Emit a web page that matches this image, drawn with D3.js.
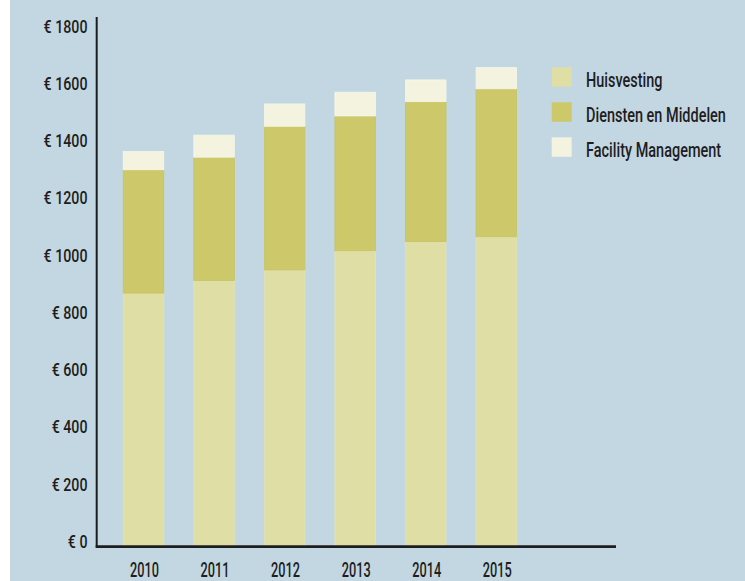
<!DOCTYPE html>
<html>
<head>
<meta charset="utf-8">
<script src="https://cdn.jsdelivr.net/npm/d3@7"></script>
<style>
  body { margin: 0; background: #ffffff; }
  svg { display: block; }
</style>
</head>
<body>
<svg id="chart" width="745" height="581"></svg>
<script>
// Yearly cost per category (euro)
const years = ["2010", "2011", "2012", "2013", "2014", "2015"];
const huisvesting = [884, 928, 965, 1032, 1064, 1081];
const dienstenEnMiddelen = [431, 431, 502, 471, 489, 517];
const facilityManagement = [64, 77, 78, 83, 76, 74];
const seriesNames = ["Huisvesting", "Diensten en Middelen", "Facility Management"];
const yTicks = [0, 200, 400, 600, 800, 1000, 1200, 1400, 1600, 1800];

const colors = ["#dfdea4", "#cdc86a", "#f3f3df"];
const edgeColors = ["#e4e3b0", "#c8c362", "#f7f7e8"];
const textColor = "#1f1d1e";
const fontFamily = "Roboto,'DejaVu Sans Condensed',sans-serif";

const rows = years.map((y, i) => ({
  year: y,
  [seriesNames[0]]: huisvesting[i],
  [seriesNames[1]]: dienstenEnMiddelen[i],
  [seriesNames[2]]: facilityManagement[i]
}));
const stacked = d3.stack().keys(seriesNames)(rows);

const svg = d3.select("#chart");

// panel background
svg.append("rect")
  .attr("x", 10).attr("y", 0)
  .attr("width", 735).attr("height", 581)
  .attr("fill", "#c2d7e1");

const x = d3.scaleBand()
  .domain(years)
  .range([108.2, 531.6])
  .paddingInner(0.426)
  .paddingOuter(0.213);

const y = d3.scaleLinear()
  .domain([0, 1800])
  .range([546, 31]);

// stacked bars
svg.append("g")
  .selectAll("g")
  .data(stacked)
  .join("g")
    .attr("fill", (d, i) => colors[i])
    .attr("stroke", (d, i) => edgeColors[i])
    .attr("stroke-width", 0.8)
  .selectAll("rect")
  .data(d => d)
  .join("rect")
    .attr("x", d => x(d.data.year))
    .attr("y", d => y(d[1]))
    .attr("width", x.bandwidth())
    .attr("height", d => y(d[0]) - y(d[1]));

// y axis
const yAxis = svg.append("g")
  .attr("transform", "translate(96.7,0)")
  .call(d3.axisLeft(y).tickValues(yTicks).tickSize(0).tickFormat(d => "€ " + d));
yAxis.select(".domain").remove();
yAxis.selectAll("text")
  .attr("x", 0).attr("dy", 0)
  .attr("fill", textColor)
  .style("font-family", fontFamily)
  .style("font-weight", 500)
  .style("font-size", "19px")
  .attr("text-anchor", "end");

svg.append("line")
  .attr("x1", 96.7).attr("x2", 96.7)
  .attr("y1", 17).attr("y2", 547.5)
  .attr("stroke", "#1d1d1f").attr("stroke-width", 2);

// x axis
const xAxis = svg.append("g")
  .attr("transform", "translate(0,546)")
  .call(d3.axisBottom(x).tickSize(0));
xAxis.select(".domain").remove();
xAxis.selectAll("text")
  .attr("y", 0).attr("dy", 0)
  .attr("fill", textColor)
  .style("font-family", fontFamily)
  .style("font-weight", 500)
  .style("font-size", "20px");

svg.append("line")
  .attr("x1", 95.7).attr("x2", 616)
  .attr("y1", 546.6).attr("y2", 546.6)
  .attr("stroke", "#1d1d1f").attr("stroke-width", 2.6);

// legend
const legend = svg.append("g");
seriesNames.forEach((name, i) => {
  legend.append("rect")
    .attr("x", 551.7).attr("y", 67.3 + i * 35)
    .attr("width", 20).attr("height", 19.5)
    .attr("fill", colors[i]);
  legend.append("text")
    .attr("class", "legend-label")
    .attr("x", 0).attr("y", 0)
    .attr("data-x", 586).attr("data-y", 86.6 + i * 35)
    .attr("fill", textColor)
    .style("font-family", fontFamily)
    .style("font-weight", 500)
    .style("font-size", "20.5px")
    .text(name);
});

// condense the labels horizontally to the narrow face widths
function widthOf(sel, txt) {
  let w = 0;
  sel.each(function () { if (this.textContent === txt) w = this.getComputedTextLength(); });
  return w;
}
const sy = 44 / widthOf(yAxis.selectAll("text"), "€ 1400");
yAxis.selectAll("text").attr("transform", `translate(-9.2,1.3) scale(${sy},1)`);

const sx = 29 / widthOf(xAxis.selectAll("text"), "2010");
xAxis.selectAll("text").attr("transform", `translate(1,30.5) scale(${sx},1)`);

const legendTexts = legend.selectAll("text.legend-label");
const sl = 140 / widthOf(legendTexts, "Diensten en Middelen");
legendTexts.attr("transform", function () {
  return `translate(${this.getAttribute("data-x")},${this.getAttribute("data-y")}) scale(${sl},1)`;
});
</script>
</body>
</html>
